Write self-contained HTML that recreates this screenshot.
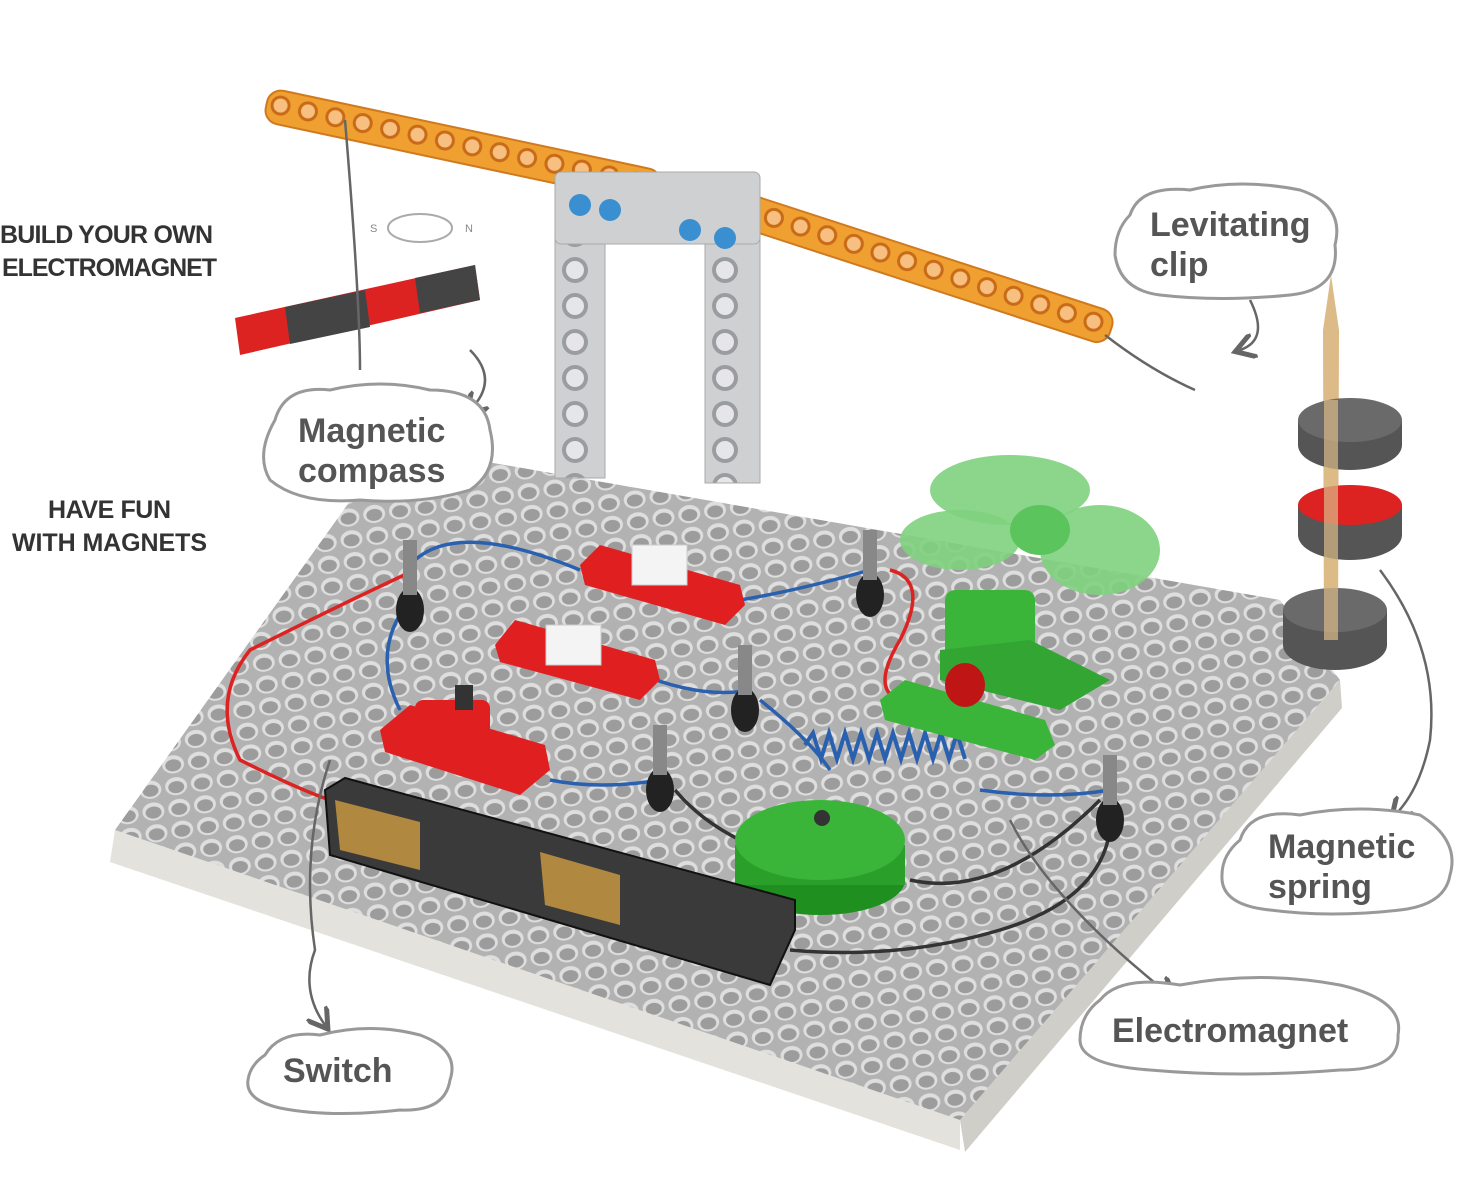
<!DOCTYPE html>
<html><head><meta charset="utf-8"><style>
html,body{margin:0;padding:0;background:#fff;}
svg{display:block}
text{font-family:"Liberation Sans",sans-serif;}
</style></head><body>
<svg width="1460" height="1186" viewBox="0 0 1460 1186" xmlns="http://www.w3.org/2000/svg">
<defs>
<pattern id="holes" x="0" y="0" width="26" height="22" patternUnits="userSpaceOnUse" patternTransform="rotate(-8)">
<rect width="26" height="22" fill="#b2b2b2"/>
<ellipse cx="13" cy="11" rx="11" ry="9" fill="#dedede"/>
<ellipse cx="13" cy="12" rx="8" ry="6" fill="#9c9c9c"/>
</pattern>
<pattern id="beam" width="28" height="30" patternUnits="userSpaceOnUse">
<rect width="28" height="30" fill="#f0a030"/>
<circle cx="14" cy="15" r="10" fill="#c86a18"/>
<circle cx="14" cy="15" r="7" fill="#f7c080"/>
</pattern>
<pattern id="gbeam" width="50" height="36" patternUnits="userSpaceOnUse">
<rect width="50" height="36" fill="#cfd0d2"/>
<circle cx="25" cy="18" r="13" fill="#9a9ca0"/>
<circle cx="25" cy="18" r="9" fill="#e6e6e8"/>
</pattern>
<marker id="ah" markerWidth="10" markerHeight="10" refX="6" refY="5" orient="auto"><path d="M0,0 L8,5 L0,10" fill="none" stroke="#666" stroke-width="2"/></marker>
</defs>

<!-- base sides -->
<polygon points="115,830 960,1120 960,1150 110,862" fill="#e4e2dc"/>
<polygon points="960,1120 1340,680 1342,708 965,1152" fill="#d0cec8"/>
<!-- top -->
<polygon points="115,830 390,445 1280,600 1340,680 960,1120" fill="url(#holes)"/>

<!-- orange beams -->
<g transform="translate(270,88) rotate(12)"><rect x="0" y="0" width="402" height="34" rx="14" fill="url(#beam)" stroke="#d07a20" stroke-width="2"/></g>
<g transform="translate(712,182) rotate(18)"><rect x="0" y="0" width="425" height="34" rx="14" fill="url(#beam)" stroke="#d07a20" stroke-width="2"/></g>
<!-- gray frame -->
<rect x="555" y="178" width="50" height="300" fill="url(#gbeam)" stroke="#aaa"/>
<rect x="705" y="178" width="55" height="305" fill="url(#gbeam)" stroke="#aaa"/>
<rect x="555" y="172" width="205" height="72" rx="6" fill="#cfd0d2" stroke="#aaa"/>
<circle cx="580" cy="205" r="11" fill="#3a8fd0"/><circle cx="610" cy="210" r="11" fill="#3a8fd0"/><circle cx="690" cy="230" r="11" fill="#3a8fd0"/><circle cx="725" cy="238" r="11" fill="#3a8fd0"/>

<!-- bar magnets -->
<polygon points="235,318 475,265 480,300 240,355" fill="#d22"/>
<polygon points="285,307 365,290 370,327 290,344" fill="#444"/>
<polygon points="415,278 475,265 480,300 420,313" fill="#444"/>
<text x="370" y="232" font-size="11" fill="#888">S</text><text x="465" y="232" font-size="11" fill="#888">N</text>
<ellipse cx="420" cy="228" rx="32" ry="14" fill="none" stroke="#aaa" stroke-width="2"/>

<!-- toothpick & ring magnets -->
<polygon points="1323,330 1331,275 1339,330 1338,650 1324,650" fill="#dcbb88"/>
<ellipse cx="1350" cy="445" rx="52" ry="25" fill="#555"/><rect x="1298" y="420" width="104" height="25" fill="#555"/><ellipse cx="1350" cy="420" rx="52" ry="22" fill="#6a6a6a"/>
<ellipse cx="1350" cy="535" rx="52" ry="25" fill="#555"/><rect x="1298" y="505" width="104" height="30" fill="#555"/><ellipse cx="1350" cy="505" rx="52" ry="20" fill="#d22"/>
<ellipse cx="1335" cy="645" rx="52" ry="25" fill="#555"/><rect x="1283" y="610" width="104" height="35" fill="#555"/><ellipse cx="1335" cy="610" rx="52" ry="22" fill="#6a6a6a"/>
<rect x="1324" y="400" width="14" height="240" fill="#dcbb88" opacity="0.7"/>

<!-- wires -->
<g fill="none" stroke-width="3.5">
<path d="M415,570 Q350,600 250,650 Q210,700 240,760 Q300,790 330,800" stroke="#d22"/>
<path d="M415,560 Q460,520 580,570 M740,600 Q800,590 870,570" stroke="#2a60b0"/>
<path d="M410,600 Q370,650 400,710 M630,670 Q700,700 750,690 M550,780 Q600,790 660,780" stroke="#2a60b0"/>
<path d="M760,700 Q810,740 830,770 M980,790 Q1050,800 1110,790" stroke="#2a60b0"/>
<path d="M890,570 Q930,580 900,640 Q870,690 900,700" stroke="#d22"/>
<path d="M675,790 Q700,820 740,840 M910,880 Q1000,900 1100,800 M790,950 Q900,960 1000,930 Q1100,900 1110,830" stroke="#333"/>
</g>
<!-- posts -->
<g fill="#222"><ellipse cx="410" cy="610" rx="14" ry="22"/><ellipse cx="870" cy="595" rx="14" ry="22"/><ellipse cx="745" cy="710" rx="14" ry="22"/><ellipse cx="660" cy="790" rx="14" ry="22"/><ellipse cx="1110" cy="820" rx="14" ry="22"/></g>
<g fill="#888"><rect x="403" y="540" width="14" height="55"/><rect x="863" y="530" width="14" height="50"/><rect x="738" y="645" width="14" height="50"/><rect x="653" y="725" width="14" height="50"/><rect x="1103" y="755" width="14" height="50"/></g>

<!-- red switches -->
<g fill="#e02020">
<polygon points="580,565 600,545 740,585 745,605 725,625 585,585"/>
<polygon points="495,645 515,620 655,660 660,680 640,700 500,662"/>
<polygon points="380,730 410,705 545,745 550,770 520,795 385,752"/>
<rect x="415" y="700" width="75" height="45" rx="8"/>
</g>
<rect x="632" y="545" width="55" height="40" fill="#f4f4f4" stroke="#ccc"/>
<rect x="546" y="625" width="55" height="40" fill="#f4f4f4" stroke="#ccc"/>
<rect x="455" y="685" width="18" height="25" fill="#333"/>

<!-- spring coil -->
<g fill="none" stroke="#2a60b0" stroke-width="4">
<path d="M805,745 l8,-12 l8,26 l8,-26 l8,26 l8,-26 l8,26 l8,-26 l8,26 l8,-26 l8,26 l8,-26 l8,26 l8,-26 l8,26 l8,-26 l8,26 l8,-26 l8,26 l8,-26 l8,26"/>
</g>

<!-- green fan + LED board -->
<polygon points="880,700 905,680 1045,720 1055,745 1035,760 885,720" fill="#3ab53a"/>
<rect x="945" y="590" width="90" height="100" rx="10" fill="#3ab53a"/>
<polygon points="940,650 1030,640 1110,680 1060,710 940,680" fill="#33a533"/>
<ellipse cx="965" cy="685" rx="20" ry="22" fill="#c01515"/>
<ellipse cx="1010" cy="490" rx="80" ry="35" fill="#7ed27e" opacity="0.9"/>
<ellipse cx="1100" cy="550" rx="60" ry="45" fill="#7ed27e" opacity="0.9"/>
<ellipse cx="960" cy="540" rx="60" ry="30" fill="#7ed27e" opacity="0.9"/>
<ellipse cx="1040" cy="530" rx="30" ry="25" fill="#5cc45c"/>

<!-- buzzer -->
<ellipse cx="820" cy="880" rx="85" ry="35" fill="#1f8f1f"/>
<rect x="735" y="845" width="170" height="40" fill="#2aa02a"/>
<ellipse cx="820" cy="840" rx="85" ry="40" fill="#3ab53a"/>
<circle cx="822" cy="818" r="8" fill="#333"/>

<!-- battery -->
<polygon points="325,790 345,778 795,900 795,930 770,985 330,855" fill="#3a3a3a" stroke="#111" stroke-width="2"/>
<polygon points="335,800 420,822 420,870 340,850" fill="#b08840"/>
<polygon points="540,852 620,875 620,925 545,905" fill="#b08840"/>

<!-- connector arrows -->
<g fill="none" stroke="#666" stroke-width="2.5">
<path d="M345,120 Q360,300 360,370 M470,350 Q500,380 470,410" marker-end="url(#ah)"/>
<path d="M1105,335 Q1150,370 1195,390 M1250,300 Q1270,340 1240,350" marker-end="url(#ah)"/>
<path d="M1380,570 Q1440,650 1430,740 Q1420,790 1395,815" marker-end="url(#ah)"/>
<path d="M330,760 Q300,850 315,950 Q300,990 325,1025" marker-end="url(#ah)"/>
<path d="M1010,820 Q1050,900 1170,995" marker-end="url(#ah)"/>
</g>

<!-- clouds -->
<g fill="#fff" stroke="#999" stroke-width="3">
<path d="M275,420 Q285,385 330,390 Q380,378 430,390 Q485,390 490,430 Q500,470 470,490 Q420,505 360,500 Q300,505 270,480 Q255,455 275,420 Z"/>
<path d="M1130,215 Q1140,185 1190,190 Q1240,178 1300,190 Q1345,205 1335,245 Q1340,290 1290,295 Q1220,302 1160,295 Q1120,290 1115,255 Q1115,230 1130,215 Z"/>
<path d="M1240,840 Q1250,808 1300,815 Q1360,803 1420,815 Q1460,840 1450,875 Q1445,905 1400,910 Q1330,918 1270,910 Q1220,905 1222,875 Q1222,855 1240,840 Z"/>
<path d="M1100,1000 Q1120,975 1180,985 Q1260,970 1340,985 Q1405,1000 1398,1035 Q1400,1070 1340,1070 Q1240,1078 1150,1070 Q1080,1065 1080,1040 Q1080,1015 1100,1000 Z"/>
<path d="M265,1055 Q280,1030 320,1035 Q370,1022 420,1035 Q460,1050 450,1080 Q445,1112 400,1110 Q330,1118 280,1108 Q245,1100 248,1080 Q250,1065 265,1055 Z"/>
</g>
<g font-size="34" font-weight="bold" fill="#555">
<text x="298" y="442">Magnetic</text><text x="298" y="482">compass</text>
<text x="1150" y="236">Levitating</text><text x="1150" y="276">clip</text>
<text x="1268" y="858">Magnetic</text><text x="1268" y="898">spring</text>
<text x="1112" y="1042">Electromagnet</text>
<text x="283" y="1082">Switch</text>
</g>
<g font-size="25" font-weight="bold" fill="#333" letter-spacing="1">
<text x="0" y="243" textLength="214">BUILD YOUR OWN</text>
<text x="2" y="276" textLength="216">ELECTROMAGNET</text>
<text x="48" y="518" textLength="124">HAVE FUN</text>
<text x="12" y="551" textLength="196">WITH MAGNETS</text>
</g>
</svg>
</body></html>
